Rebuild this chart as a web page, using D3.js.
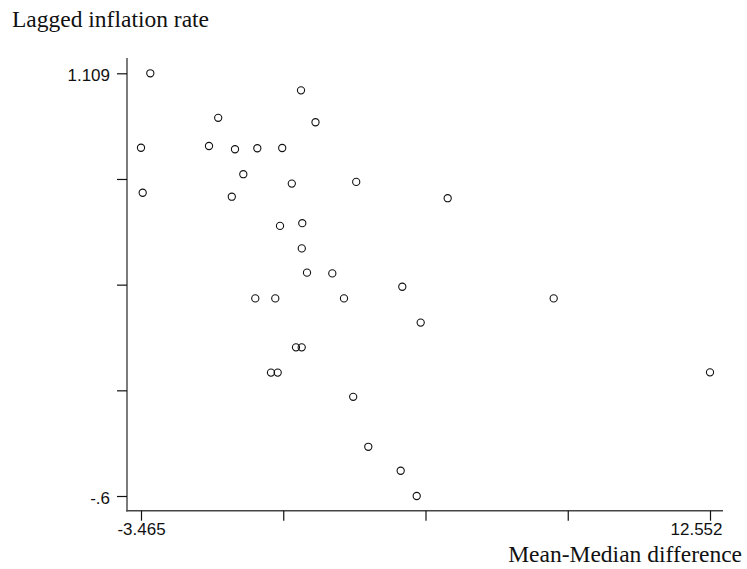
<!DOCTYPE html>
<html>
<head>
<meta charset="utf-8">
<script src="https://cdn.jsdelivr.net/npm/d3@7"></script>
<style>
  html, body { margin: 0; padding: 0; background: #fff; }
  svg { display: block; }
</style>
</head>
<body>
<svg id="chart" width="747" height="569"></svg>
<script>
// Data (Mean-Median difference vs Lagged inflation rate)
const meanMedianDiff = [
  -3.203, -3.465, -3.417, -1.292, -1.551, -0.819, -0.909, 1.447, -0.191, 0.510,
  -0.585, 0.780, 2.593, 5.168, 1.039, 0.448, 1.075, 1.061, 1.208, 1.920,
  3.890, -0.248, 0.315, 2.249, 8.152, 4.408, 0.898, 1.059, 0.194, 0.383,
  12.552, 2.508, 2.933, 3.845, 4.296
];
const laggedInflation = [
  1.109, 0.808, 0.626, 0.929, 0.815, 0.802, 0.610, 0.911, 0.806, 0.807,
  0.701, 0.663, 0.670, 0.604, 1.040, 0.492, 0.503, 0.401, 0.303, 0.300,
  0.246, 0.199, 0.199, 0.199, 0.199, 0.101, 0.001, 0.001, -0.101, -0.101,
  -0.100, -0.199, -0.401, -0.498, -0.600
];
const xTickValues = [-3.465, 0.5393, 4.5435, 8.5478, 12.552];
const xTickLabels = ["-3.465", "", "", "", "12.552"];
const yTickValues = [-0.6, -0.17275, 0.2545, 0.68175, 1.109];
const yTickLabels = ["-.6", "", "", "", "1.109"];
const xTitle = "Mean-Median difference";
const yTitle = "Lagged inflation rate";

const svg = d3.select("#chart");
const x = d3.scaleLinear().domain([-3.465, 12.552]).range([141, 710]);
const y = d3.scaleLinear().domain([-0.6, 1.109]).range([496, 73.3]);

const axisX0 = 127, axisY0 = 510.7;
const sansFont = "'Liberation Sans', Arial, sans-serif";
const serifFont = "'Liberation Serif', 'Times New Roman', serif";

// Axis lines
svg.append("line")
  .attr("x1", axisX0).attr("x2", axisX0)
  .attr("y1", 58).attr("y2", axisY0 + 0.7)
  .attr("stroke", "#444").attr("stroke-width", 1.4);
svg.append("line")
  .attr("x1", axisX0 - 0.7).attr("x2", 723)
  .attr("y1", axisY0).attr("y2", axisY0)
  .attr("stroke", "#444").attr("stroke-width", 1.4);

// Y axis ticks
const yAxis = d3.axisLeft(y)
  .tickValues(yTickValues)
  .tickSize(10)
  .tickPadding(7)
  .tickFormat((d, i) => yTickLabels[i]);
const gy = svg.append("g").attr("transform", `translate(${axisX0},0)`).call(yAxis);
gy.select(".domain").remove();
gy.selectAll(".tick line").attr("stroke", "#111").attr("stroke-width", 1.2);
gy.selectAll(".tick text")
  .attr("font-family", sansFont).attr("font-size", 17).attr("fill", "#111")
  .attr("dy", "0.42em");

// X axis ticks
const xAxis = d3.axisBottom(x)
  .tickValues(xTickValues)
  .tickSize(10)
  .tickPadding(4)
  .tickFormat((d, i) => xTickLabels[i]);
const gx = svg.append("g").attr("transform", `translate(0,${axisY0})`).call(xAxis);
gx.select(".domain").remove();
gx.selectAll(".tick line").attr("stroke", "#111").attr("stroke-width", 1.2);
gx.selectAll(".tick text")
  .attr("font-family", sansFont).attr("font-size", 17).attr("fill", "#111")
  .attr("dy", null).attr("y", 24.5)
  .each(function(d, i) {
    if (i === xTickValues.length - 1) {
      d3.select(this).attr("text-anchor", "end").attr("x", 12);
    }
  });

// Titles
svg.append("text")
  .attr("x", 12).attr("y", 27)
  .attr("font-family", serifFont).attr("font-size", 23.5).attr("fill", "#111")
  .text(yTitle);
svg.append("text")
  .attr("x", 742).attr("y", 562)
  .attr("text-anchor", "end")
  .attr("font-family", serifFont).attr("font-size", 23.5).attr("fill", "#111")
  .text(xTitle);

// Points
const pts = meanMedianDiff.map((v, i) => ({ x: v, y: laggedInflation[i] }));
svg.append("g").selectAll("circle").data(pts).join("circle")
  .attr("cx", d => x(d.x))
  .attr("cy", d => y(d.y))
  .attr("r", 3.6)
  .attr("fill", "none")
  .attr("stroke", "#111")
  .attr("stroke-width", 1.1);
</script>
</body>
</html>
